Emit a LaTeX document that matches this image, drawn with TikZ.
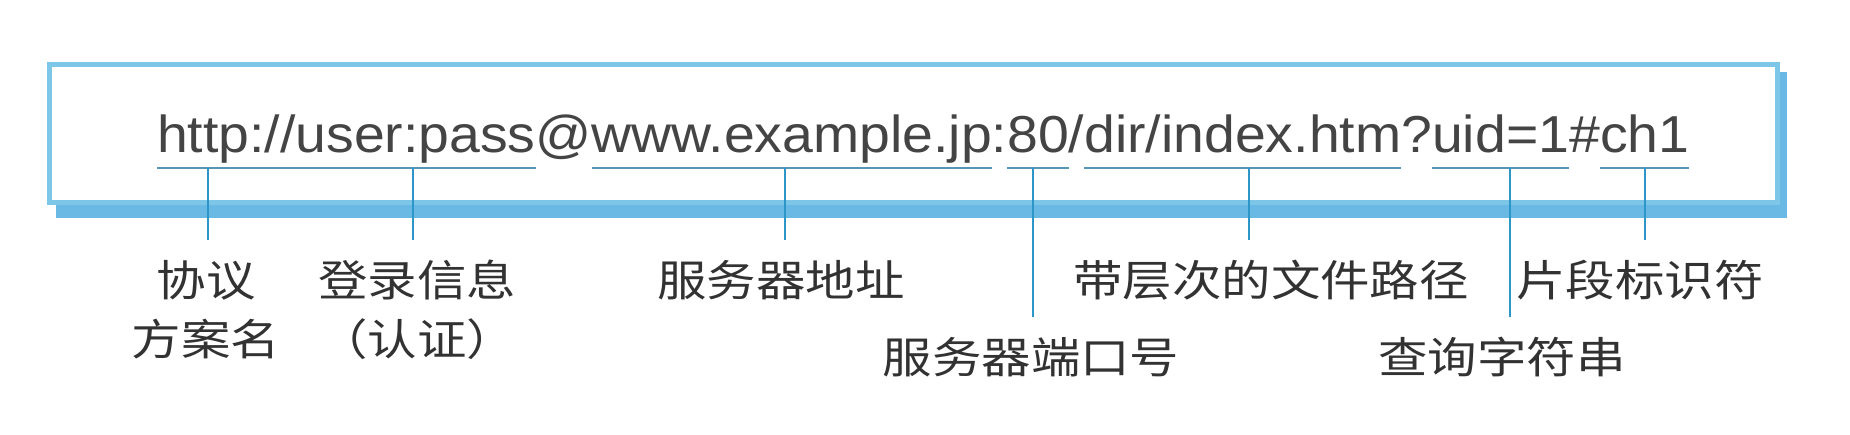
\documentclass[tikz,border=0pt]{standalone}
\usepackage{graphicx}
\usepackage{fontspec}
\setmainfont{Liberation Sans}
\newfontfamily\cjk{Noto Sans CJK SC}
\definecolor{boxblue}{RGB}{125,198,232}
\definecolor{shadowblue}{RGB}{105,185,228}
\definecolor{linecol}{RGB}{45,150,200}
\definecolor{ulcol}{RGB}{85,150,180}
\definecolor{txt}{RGB}{50,50,50}
\definecolor{urltxt}{RGB}{68,68,68}
\newcommand\urlpart[1]{\scalebox{1.065}[1]{#1}}
\newcommand\lbtext[1]{\scalebox{1.15}[1]{\begin{tabular}{@{}c@{}}#1\end{tabular}}}
\begin{document}
\begin{tikzpicture}[x=0.5pt,y=-0.5pt,
  seg/.style={inner sep=0pt, outer sep=0pt, anchor=base west, text=urltxt,
    font=\fontsize{26pt}{30pt}\selectfont},
  lab/.style={inner sep=0pt, outer xsep=0pt, outer ysep=7.7pt, anchor=north, text=txt,
    font=\cjk\fontsize{21.5pt}{29.5pt}\selectfont},
  uline/.style={draw=ulcol, line width=0.9pt},
  conn/.style={draw=linecol, line width=0.9pt}]
\useasboundingbox (0,0) rectangle (1850,434);
% frame with shadow
\fill[shadowblue] (56,72) rectangle (1787,218);
\draw[boxblue, fill=white, line width=2.5pt] (49.5,64.5) rectangle (1777.5,202.5);
% URL parts
\node[seg] (s1) at (157,152) {\urlpart{http://}};
\node[seg] (s2) at (s1.base east) {\urlpart{user:pass}};
\node[seg] (s3) at (s2.base east) {\urlpart{@}};
\node[seg] (s4) at (s3.base east) {\urlpart{www.example.jp}};
\node[seg] (s5) at (s4.base east) {\urlpart{:}};
\node[seg] (s6) at (s5.base east) {\urlpart{80}};
\node[seg] (s7) at (s6.base east) {\urlpart{/}};
\node[seg] (s8) at (s7.base east) {\urlpart{dir/index.htm}};
\node[seg] (s9) at (s8.base east) {\urlpart{?}};
\node[seg] (s10) at (s9.base east) {\urlpart{uid=1}};
\node[seg] (s11) at (s10.base east) {\urlpart{\#}};
\node[seg] (s12) at (s11.base east) {\urlpart{ch1}};
% underlines
\coordinate (ul) at (0,168);
\foreach \s in {s1,s2,s4,s6,s8,s10,s12}
  \draw[uline] (\s.west |- ul) -- (\s.east |- ul);
% labels
\node[lab] (l1) at (206,240) {\lbtext{协议\\方案名}};
\node[lab] (l2) at (417,240) {\lbtext{登录信息\\（认证）}};
\node[lab] (l3) at (781,240) {\lbtext{服务器地址}};
\node[lab] (l4) at (1031,317) {\lbtext{服务器端口号}};
\node[lab] (l5) at (1271,240) {\lbtext{带层次的文件路径}};
\node[lab] (l6) at (1502,317) {\lbtext{查询字符串}};
\node[lab] (l7) at (1640,240) {\lbtext{片段标识符}};
% connectors
\coordinate (t1) at (208,168);
\coordinate (t2) at (413,168);
\coordinate (t3) at (785,168);
\coordinate (t4) at (1033,168);
\coordinate (t5) at (1249,168);
\coordinate (t6) at (1510,168);
\coordinate (t7) at (1645,168);
\draw[conn] (t1) -- (t1 |- l1.north);
\draw[conn] (t2) -- (t2 |- l2.north);
\draw[conn] (t3) -- (t3 |- l3.north);
\draw[conn] (t4) -- (t4 |- l4.north);
\draw[conn] (t5) -- (t5 |- l5.north);
\draw[conn] (t6) -- (t6 |- l6.north);
\draw[conn] (t7) -- (t7 |- l7.north);
\end{tikzpicture}
\end{document}
